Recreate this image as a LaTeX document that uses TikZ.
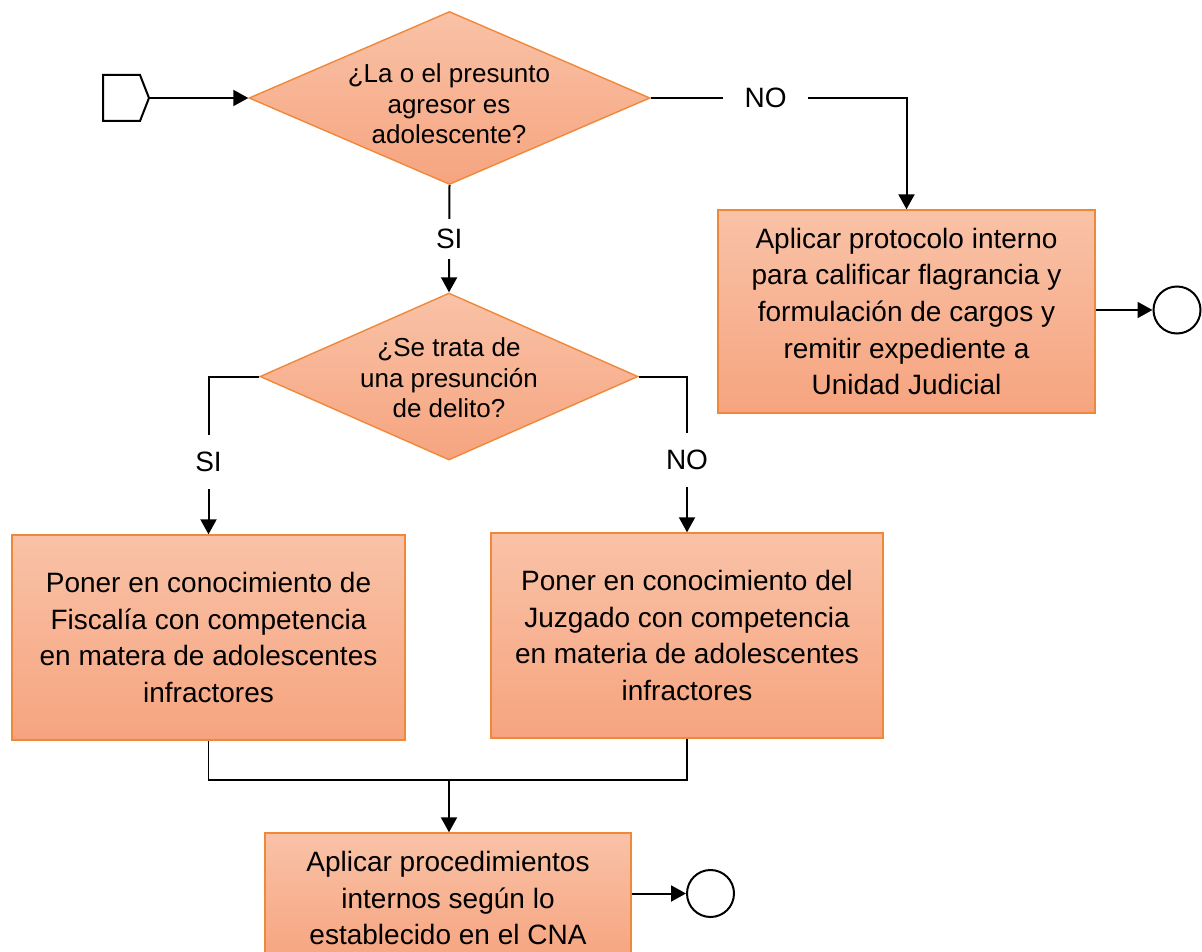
\documentclass[tikz,border=0pt]{standalone}
\usepackage{fontspec}
\setmainfont{Liberation Sans}
\usetikzlibrary{shapes.geometric,arrows.meta,calc}
\definecolor{fillTop}{HTML}{F9C2A7}
\definecolor{fillBot}{HTML}{F6A47F}
\definecolor{edgeOr}{HTML}{F0883A}
\begin{document}
\begin{tikzpicture}[x=1pt,y=-1pt,
  proc/.style={draw=edgeOr, line width=1.4pt, top color=fillTop, bottom color=fillBot,
    inner sep=0pt, align=center, font=\fontsize{28}{36.7}\selectfont},
  dec/.style={diamond, draw=edgeOr, line width=1.4pt, top color=fillTop, bottom color=fillBot, inner sep=0pt},
  dtext/.style={align=center, font=\fontsize{26}{30.5}\selectfont, inner sep=0pt},
  lbl/.style={fill=white, font=\fontsize{28}{30}\selectfont, inner sep=0pt},
  flow/.style={line width=2pt, -{Triangle[length=15pt,width=16pt]}},
  joinline/.style={line width=1.3pt},
  term/.style={circle, draw, line width=2pt, minimum size=47pt, inner sep=0pt},
  offpage/.style={draw, line width=2pt, line join=miter}
]
\useasboundingbox (0,0) rectangle (1202,952);

% off-page connector
\draw[offpage] (103,75) -- (140,75) -- (149,98) -- (140,121) -- (103,121) -- cycle;
\coordinate (s) at (149,98);

% decisions
\node[dec, minimum width=401pt, minimum height=173pt] (d1) at (449.5,98) {};
\node[dtext] (t1) at (449,104) {¿La o el presunto\\agresor es\\adolescente?};
\node[dec, minimum width=378pt, minimum height=167pt] (d2) at (449,376.5) {};
\node[dtext] (t2) at (449,378) {¿Se trata de\\una presunción\\de delito?};

% process boxes
\node[proc, minimum width=377pt, minimum height=203pt] (b1) at (906.5,311.5)
  {Aplicar protocolo interno\\para calificar flagrancia y\\formulación de cargos y\\remitir expediente a\\Unidad Judicial};
\node[proc, minimum width=393pt, minimum height=205pt] (b2) at (208.5,637.5)
  {Poner en conocimiento de\\Fiscalía con competencia\\en matera de adolescentes\\infractores};
\node[proc, minimum width=392pt, minimum height=205pt] (b3) at (687,635.5)
  {Poner en conocimiento del\\Juzgado con competencia\\en materia de adolescentes\\infractores};
\node[proc, minimum width=366pt, minimum height=130pt] (b4) at (448,898)
  {Aplicar procedimientos\\internos según lo\\establecido en el CNA};

% terminators
\node[term] (c1) at (1177,310) {};
\node[term] (c2) at (710.5,893.5) {};

% connectors
\draw[flow] (s) -- (d1.west);
\draw[flow] (d1.east) -- node[lbl, pos=0.449, inner xsep=21.5pt, inner ysep=4pt] {NO} (d1.east -| b1.north) -- (b1.north);
\draw[flow] (d1.south) -- node[lbl, pos=0.5, inner ysep=10pt, inner xsep=4pt] {SI} (d2.north);
\draw[flow] (d2.west) -- (d2.west -| b2.north) -- node[lbl, pos=0.54, inner ysep=17pt, inner xsep=4pt] {SI} (b2.north);
\draw[flow] (d2.east) -- (d2.east -| b3.north) -- node[lbl, pos=0.535, inner ysep=17pt, inner xsep=4pt] {NO} (b3.north);
\draw[flow] (c1.west -| b1.east) -- (c1.west);
\coordinate (jn) at (449,780);
\draw[joinline] (b2.south) -- (b2.south |- jn) -- (b3.south |- jn) -- (b3.south);
\draw[flow] (jn) -- (jn |- b4.north);
\draw[flow] (c2.west -| b4.east) -- (c2.west);
\end{tikzpicture}
\end{document}
